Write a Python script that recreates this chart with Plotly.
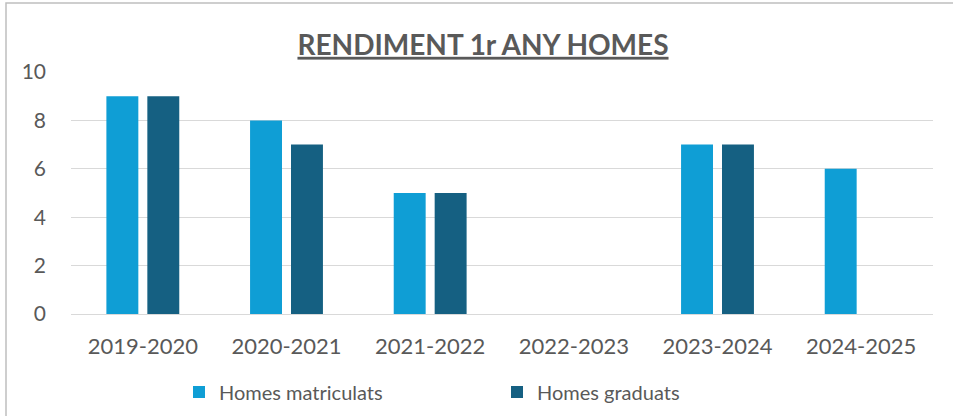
import plotly.graph_objects as go

categories = ["2019-2020", "2020-2021", "2021-2022", "2022-2023", "2023-2024", "2024-2025"]
homes_matriculats = [9, 8, 5, None, 7, 6]
homes_graduats = [9, 7, 5, None, 7, None]
y_ticks = [0, 2, 4, 6, 8, 10]

FONT = "Lato, Carlito, Calibri, sans-serif"
TXT = "#595959"

W, H = 953, 416
L, R, T, B = 71, 20, 72, 102
pw, ph = W - L - R, H - T - B

def px_x(p):
    return (p - L) / pw

def px_y(p):
    return (H - B - p) / ph

fig = go.Figure()
fig.add_bar(x=categories, y=homes_matriculats, name="Homes matriculats",
            marker=dict(color="#0F9ED5", line=dict(width=0)))
fig.add_bar(x=categories, y=homes_graduats, name="Homes graduats",
            marker=dict(color="#156082", line=dict(width=0)))

fig.update_layout(
    width=W, height=H,
    margin=dict(l=L, r=R, t=T, b=B, autoexpand=False),
    paper_bgcolor="white", plot_bgcolor="white",
    barmode="group", bargap=0.43, bargroupgap=0.22,
    font=dict(family=FONT, color=TXT, size=21),
    title=dict(text="<b><u>RENDIMENT 1r ANY HOMES</u></b>",
               x=px_x(483), xanchor="center", xref="paper",
               y=1 - 45 / H, yanchor="middle",
               font=dict(family=FONT, size=28, color=TXT)),
    legend=dict(orientation="h", x=px_x(179), xanchor="left",
                y=px_y(392), yanchor="middle",
                entrywidth=273, entrywidthmode="pixels",
                font=dict(family=FONT, size=20, color=TXT),
                itemsizing="constant", bgcolor="rgba(0,0,0,0)"),
    showlegend=True,
    hovermode=False,
    shapes=[dict(type="rect", xref="paper", yref="paper",
                 x0=px_x(6), x1=px_x(970), y0=px_y(3), y1=px_y(430),
                 line=dict(color="#BFBFBF", width=1.5), fillcolor="rgba(0,0,0,0)",
                 layer="below")],
)
fig.update_xaxes(showgrid=False, showline=False, ticks="", ticklabelstandoff=17,
                 automargin=False, tickfont=dict(family=FONT, size=22, color=TXT))
fig.update_yaxes(range=[0, 10], tickvals=y_ticks, showgrid=True, gridcolor="#D9D9D9",
                 gridwidth=1, zeroline=True, zerolinecolor="#D9D9D9", zerolinewidth=1,
                 showline=False, ticks="", ticklabelstandoff=24, automargin=False,
                 tickfont=dict(family=FONT, size=21, color=TXT))

fig.write_html("out.html", config={"displayModeBar": False},
               post_script="document.body.style.margin='0';document.body.style.overflow='hidden';")
